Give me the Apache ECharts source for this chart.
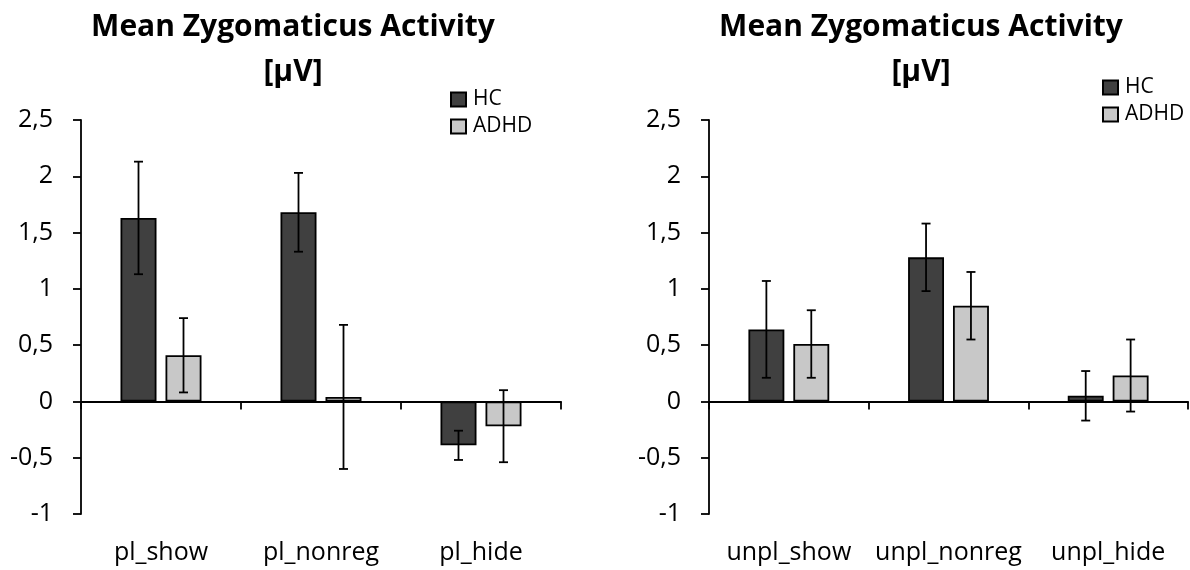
<!DOCTYPE html>
<html>
<head>
<meta charset="utf-8">
<script src="https://cdn.jsdelivr.net/npm/echarts@6/dist/echarts.min.js"></script>
<style>
  html, body { margin: 0; padding: 0; background: #fff; }
  #chart { width: 1190px; height: 570px; }
</style>
</head>
<body>
<div id="chart"></div>
<script>
// Conditions per panel
const catsPl = ['pl_show', 'pl_nonreg', 'pl_hide'];
const catsUnpl = ['unpl_show', 'unpl_nonreg', 'unpl_hide'];

// Group means and error-bar half-lengths (µV)
const hcPl = [1.63, 1.68, -0.39];
const hcPlErr = [0.50, 0.35, 0.13];
const adhdPl = [0.41, 0.04, -0.22];
const adhdPlErr = [0.33, 0.64, 0.32];

const hcUnpl = [0.64, 1.28, 0.05];
const hcUnplErr = [0.43, 0.30, 0.22];
const adhdUnpl = [0.51, 0.85, 0.23];
const adhdUnplErr = [0.30, 0.30, 0.32];

const groups = ['HC', 'ADHD'];
const titleText = 'Mean Zygomaticus Activity\n[μV]';

const FONT = 'Open Sans';
const HC_COLOR = '#404040';
const ADHD_COLOR = '#c8c8c8';
const LINE_W = 1.8;
const BAR_FRAC = 0.225;   // bar width as share of the category band
const GAP_FRAC = 0.25;    // gap between paired bars, relative to bar width

const chart = echarts.init(document.getElementById('chart'));

function errData(means, errs) {
  return means.map((m, i) => [i, m, errs[i]]);
}

// Whisker with caps, shifted to sit on the HC (-1) or ADHD (+1) bar
function makeRender(sign) {
  return function (params, api) {
    const i = api.value(0), m = api.value(1), e = api.value(2);
    const band = api.size([1, 0])[0];
    const w = band * BAR_FRAC;
    const dx = sign * (w + w * GAP_FRAC) / 2;
    const top = api.coord([i, m + e]);
    const bot = api.coord([i, m - e]);
    const x = top[0] + dx;
    const cap = 4.5;
    const style = { stroke: '#000', lineWidth: LINE_W };
    return {
      type: 'group',
      children: [
        { type: 'line', shape: { x1: x, y1: top[1], x2: x, y2: bot[1] }, style },
        { type: 'line', shape: { x1: x - cap, y1: top[1], x2: x + cap, y2: top[1] }, style },
        { type: 'line', shape: { x1: x - cap, y1: bot[1], x2: x + cap, y2: bot[1] }, style }
      ]
    };
  };
}

function yAxis(gi) {
  return {
    type: 'value', gridIndex: gi, min: -1, max: 2.5, interval: 0.5,
    splitLine: { show: false },
    axisLine: { show: true, lineStyle: { color: '#000', width: LINE_W } },
    axisTick: { show: true, inside: false, length: 8, lineStyle: { color: '#000', width: LINE_W } },
    axisLabel: {
      margin: 28, color: '#000', fontFamily: FONT, fontSize: 25,
      formatter: v => String(v).replace('.', ',')
    }
  };
}

// Axis line sitting at zero with boundary ticks
function zeroAxis(gi, cats) {
  return {
    type: 'category', gridIndex: gi, data: cats, position: 'bottom',
    axisLine: { show: true, onZero: true, lineStyle: { color: '#000', width: LINE_W } },
    axisTick: { show: true, inside: false, length: 8, interval: 0, lineStyle: { color: '#000', width: LINE_W } },
    axisLabel: { show: false },
    splitLine: { show: false }
  };
}

// Category names along the bottom edge
function labelAxis(gi, cats) {
  return {
    type: 'category', gridIndex: gi, data: cats, position: 'bottom',
    axisLine: { show: false, onZero: false },
    axisTick: { show: false },
    axisLabel: { show: true, margin: 26, color: '#000', fontFamily: FONT, fontSize: 25, interval: 0 },
    splitLine: { show: false }
  };
}

function bar(name, color, xi, yi, data) {
  return {
    name, type: 'bar', xAxisIndex: xi, yAxisIndex: yi, data,
    barWidth: (BAR_FRAC * 100) + '%', barGap: (GAP_FRAC * 100) + '%',
    itemStyle: { color, borderColor: '#000', borderWidth: LINE_W },
    emphasis: { disabled: true }, z: 2
  };
}

function errors(xi, yi, means, errs, sign) {
  return {
    type: 'custom', xAxisIndex: xi, yAxisIndex: yi,
    data: errData(means, errs), encode: { x: 0, y: 1 },
    renderItem: makeRender(sign), z: 5, silent: true
  };
}

function legend(left, top) {
  return {
    data: groups, orient: 'vertical', left, top,
    icon: 'rect', itemWidth: 15, itemHeight: 14, itemGap: 6,
    textStyle: { color: '#000', fontFamily: FONT, fontSize: 21, padding: [0, 0, 0, 2] },
    selectedMode: false
  };
}

const titleStyle = { color: '#000', fontFamily: FONT, fontWeight: 'bold', fontSize: 30, lineHeight: 45 };

chart.setOption({
  animation: false,
  backgroundColor: '#fff',
  title: [
    { text: titleText, left: 288, top: 0, textAlign: 'center', textStyle: titleStyle },
    { text: titleText, left: 916, top: 0, textAlign: 'center', textStyle: titleStyle }
  ],
  legend: [legend(445, 84), legend(1097, 72)],
  grid: [
    { left: 81, top: 120, width: 480, height: 394 },
    { left: 709, top: 120, width: 479, height: 394 }
  ],
  xAxis: [zeroAxis(0, catsPl), labelAxis(0, catsPl), zeroAxis(1, catsUnpl), labelAxis(1, catsUnpl)],
  yAxis: [yAxis(0), yAxis(1)],
  series: [
    bar('HC', HC_COLOR, 0, 0, hcPl),
    bar('ADHD', ADHD_COLOR, 0, 0, adhdPl),
    bar('HC', HC_COLOR, 2, 1, hcUnpl),
    bar('ADHD', ADHD_COLOR, 2, 1, adhdUnpl),
    errors(0, 0, hcPl, hcPlErr, -1),
    errors(0, 0, adhdPl, adhdPlErr, 1),
    errors(2, 1, hcUnpl, hcUnplErr, -1),
    errors(2, 1, adhdUnpl, adhdUnplErr, 1)
  ]
});
</script>
</body>
</html>
